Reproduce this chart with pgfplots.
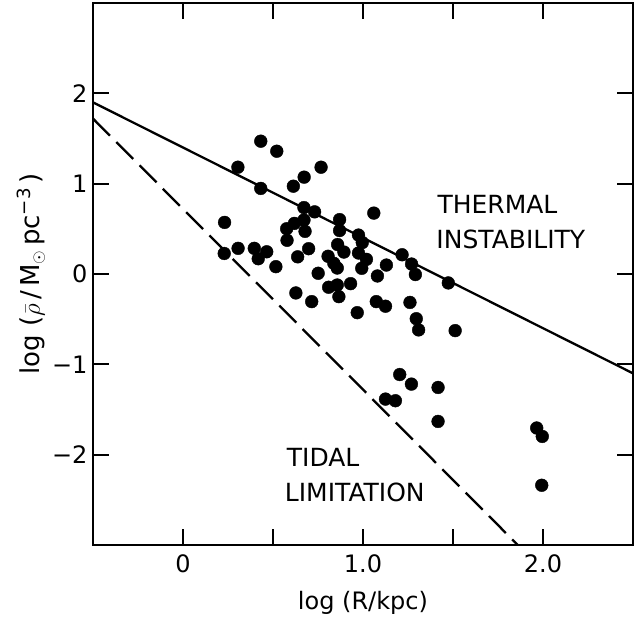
\documentclass[border=0pt]{standalone}
\usepackage{pgfplots}
\pgfplotsset{compat=1.18}
\usepackage{fontspec}
\setmainfont{DejaVu Sans}
\begin{document}
\begin{tikzpicture}
\begin{axis}[
  name=ax,
  scale only axis,
  width=540pt, height=542pt,
  xmin=-0.5, xmax=2.5, ymin=-3, ymax=3,
  xtick={0,0.5,1,1.5,2},
  xticklabels={0,,1.0,,2.0},
  ytick={-2,-1,0,1,2},
  yticklabels={−2,−1,0,1,2},
  tick align=inside,
  major tick length=16pt,
  every tick/.style={black, line width=2pt},
  axis line style={line width=2.4pt},
  ticklabel style={font=\fontsize{24}{28}\selectfont},
  xticklabel style={yshift=-6pt},
  yticklabel style={xshift=-2pt},
  label style={font=\fontsize{24}{28}\selectfont},
  xlabel={log (R/kpc)},
  xlabel style={yshift=-12pt},
  ylabel={log ($\bar{\rho}$\,/\,M$_{\odot}$\,pc\textsuperscript{−3}\,)},
  ylabel style={yshift=0pt, font=\fontsize{26}{30}\selectfont},
  clip=true,
]
\addplot[only marks, mark=*, mark size=6.4pt, mark options={fill=black, draw=black}] coordinates {
(0.432,1.470) (0.521,1.359) (0.305,1.182) (0.767,1.182) (0.673,1.072)
(0.613,0.972) (0.432,0.947) (0.672,0.735) (0.731,0.688) (1.060,0.674)
(0.231,0.571) (0.870,0.602) (0.672,0.597) (0.619,0.560) (0.576,0.501)
(0.678,0.472) (0.870,0.481) (0.578,0.373) (0.975,0.431) (0.996,0.348)
(0.859,0.326) (0.894,0.243) (0.975,0.232) (1.019,0.162) (0.993,0.063)
(0.306,0.284) (0.229,0.227) (0.396,0.284) (0.465,0.246) (0.418,0.169)
(0.698,0.280) (0.637,0.190) (0.516,0.081) (1.130,0.099) (1.217,0.213)
(1.270,0.110) (1.291,-0.006) (1.474,-0.099) (0.806,0.196) (0.838,0.118)
(0.751,0.008) (0.857,0.066) (1.080,-0.022) (0.931,-0.107) (0.857,-0.122)
(0.809,-0.147) (0.866,-0.251) (0.627,-0.210) (0.715,-0.306) (0.968,-0.428)
(1.074,-0.306) (1.125,-0.357) (1.261,-0.315) (1.296,-0.495) (1.309,-0.619)
(1.512,-0.627) (1.204,-1.113) (1.269,-1.219) (1.417,-1.256) (1.125,-1.385)
(1.180,-1.403) (1.417,-1.632) (1.965,-1.705) (1.996,-1.798) (1.993,-2.339)
};
\addplot[black, line width=2.3pt] coordinates {(-0.5,1.9) (2.5,-1.1)};
\addplot[black, line width=2.3pt, dash pattern=on 24pt off 9pt] coordinates {(-0.5,1.72) (1.9,-3.08)};
\node[anchor=base west, inner sep=0pt, font=\fontsize{25}{30}\selectfont] at (axis cs:1.413,0.674) {THERMAL};
\node[anchor=base west, inner sep=0pt, font=\fontsize{25}{30}\selectfont] at (axis cs:1.407,0.287) {INSTABILITY};
\node[anchor=base west, inner sep=0pt, font=\fontsize{25}{30}\selectfont] at (axis cs:0.576,-2.129) {TIDAL};
\node[anchor=base west, inner sep=0pt, font=\fontsize{25}{30}\selectfont] at (axis cs:0.565,-2.523) {LIMITATION};
\end{axis}
\pgfresetboundingbox
\useasboundingbox ([shift={(-93pt,-78pt)}]ax.south west) rectangle ([shift={(9pt,3pt)}]ax.north east);
\end{tikzpicture}
\end{document}
